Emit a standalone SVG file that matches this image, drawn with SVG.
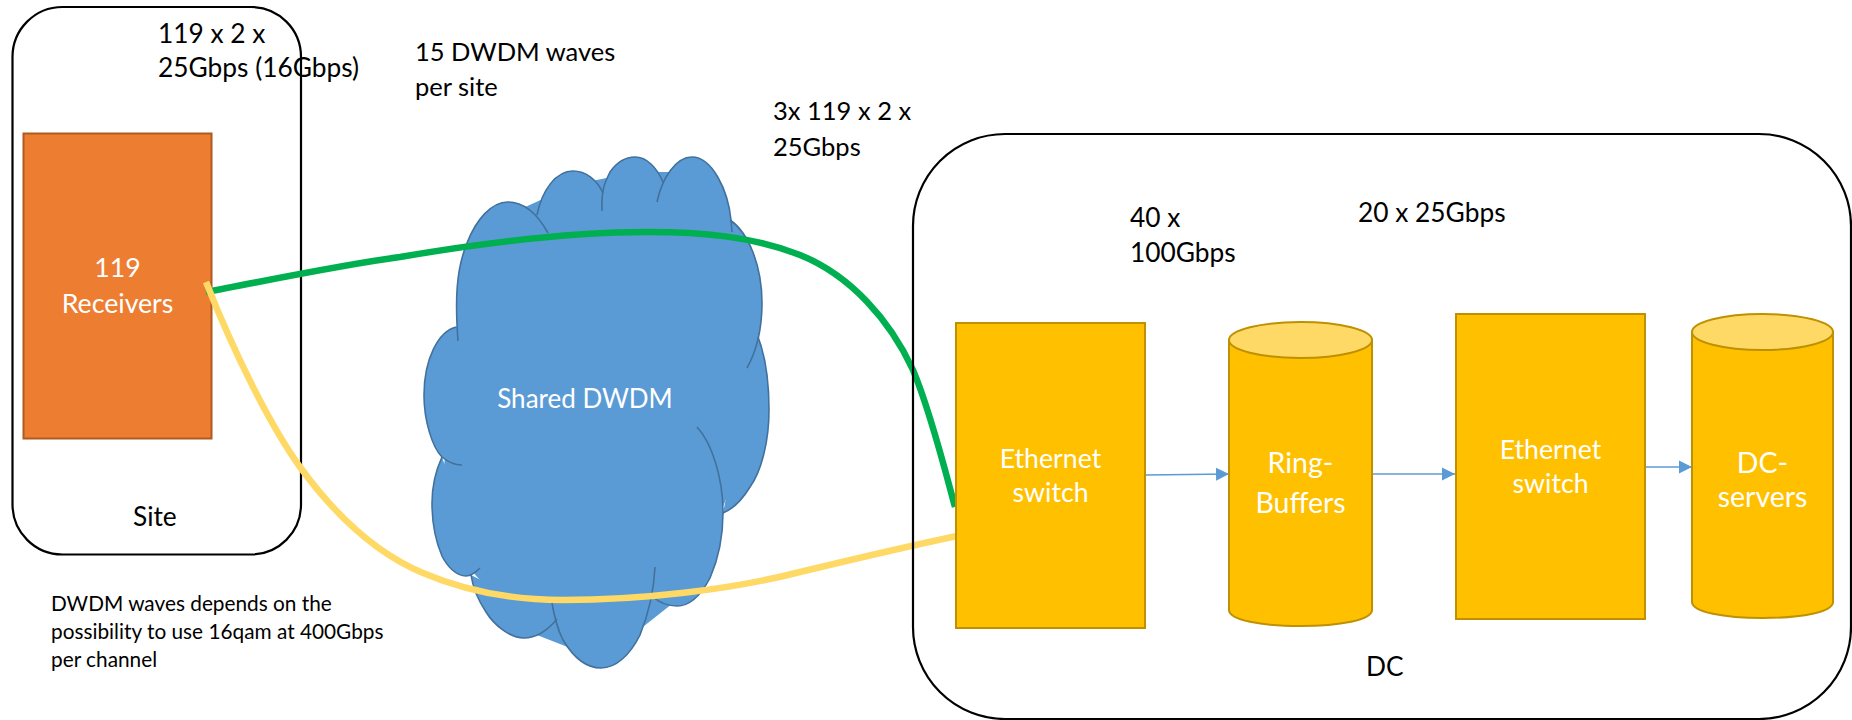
<svg xmlns="http://www.w3.org/2000/svg" width="1852" height="720" viewBox="0 0 1852 720">
<style>
text{font-family:"Lato","Liberation Sans",sans-serif;font-size:26.300px;fill:#000}
.n{font-size:25.500px}
.w{fill:#fff;text-anchor:middle;font-size:26.700px}
.d{font-size:26px}
.b{font-size:28.500px}
.s{font-size:20.800px}
.c{fill:none;stroke:#000;stroke-width:2.2}
.y{fill:#FFC000;stroke:#BF9000;stroke-width:2}
.t{fill:#FFD966;stroke:#BF9000;stroke-width:2}
.a{fill:none;stroke:#5B9BD5;stroke-width:1.3;marker-end:url(#ah)}
.cl{fill:none;stroke:#41719C;stroke-width:1.6}
.cf{fill:#5B9BD5;stroke:none}
</style>
<defs>
<marker id="ah" markerUnits="userSpaceOnUse" markerWidth="14" markerHeight="14" refX="13" refY="7" orient="auto"><path d="M0,0.5L13,7L0,13.5z" fill="#5B9BD5"/></marker>
<g id="lobes">
<path d="M458,341C455,300 456,270 467,243C476,220 491,202 508,202C525,202 538,215 548,233"/>
<path d="M537,215C542,190 556,171 573,171C586,171 597,180 603,193"/>
<path d="M602,211C601,190 605,182 610,172C617,162 625,157 635,157C647,157 657,168 663,182"/>
<path d="M657,202C662,178 676,157 692,157C712,157 728,190 731,220L732,232"/>
<path d="M730,220C748,232 762,265 762,303C762,330 757,350 747,368"/>
<path d="M758,337C765,355 769,380 769,410C769,440 762,470 750,487C742,500 733,509 723,513"/>
<path d="M697,427C712,443 723,478 723,513C723,530 720,555 710,578C700,597 688,606 677,606C668,606 660,603 653,597"/>
<path d="M655,567C654,590 648,615 640,635C630,655 616,668 601,668C585,668 572,655 563,640C557,628 554,615 552,603"/>
<path d="M557,619C547,631 536,638 524,638C510,638 494,625 486,612C478,600 473,588 471,575"/>
<path d="M480,568C476,572 471,576 466,576C456,576 447,566 442,556C436,542 432,522 432,503C432,485 436,470 442,457"/>
<path d="M462,465C455,465 448,462 442,457C432,447 424,420 424,395C424,360 438,331 456.500,327"/>
</g>
</defs>
<g id="site"><rect class="c" x="12.500" y="7" width="288.500" height="547.500" rx="50"/><text x="133" y="526">Site</text></g>
<g id="receivers"><rect x="23.500" y="133.500" width="188" height="305" fill="#ED7D31" stroke="#AE5A21" stroke-width="2"/><text class="w" x="117.500" y="277">119</text><text class="w" x="117.500" y="313">Receivers</text></g>
<g id="cloud">
<path class="cf" d="M456.500,327L470,300L508,215L573,185L635,172L692,172L745,250L755,330L762,420L720,513L677,600L601,660L524,630L471,570L440,503L445,457L430,395Z"/>
<use href="#lobes" class="cf"/>
<use href="#lobes" class="cl"/>
<text class="w d" x="585" y="408">Shared DWDM</text>
</g>
<g id="connectors">
<path fill="none" stroke="#00B050" stroke-width="6.500" d="M206,292C270,280 340,265 400,257C470,245 560,232 648,232C700,232 752,236 800,255C850,275 890,320 913,370C930,410 945,470 955,507"/>
<path fill="none" stroke="#FFD966" stroke-width="6.500" d="M206,282C235,355 270,425 300,467C335,515 375,553 423,573C470,593 520,600 563,600C640,600 730,590 800,572C850,560 900,548 957,536"/>
<path class="a" d="M1146,475L1229,474"/>
<path class="a" d="M1372,474L1455,474"/>
<path class="a" d="M1645,467L1692,467"/>
</g>
<g id="dc"><rect class="c" x="913" y="134" width="938" height="585" rx="92"/><text x="1366" y="676">DC</text></g>
<g id="switch1"><rect class="y" x="956" y="323" width="189" height="305"/><text class="w" x="1050.500" y="468">Ethernet</text><text class="w" x="1050.500" y="502">switch</text></g>
<g id="ringbuffers"><path class="y" d="M1229,340V610C1229,620 1261,626 1300.500,626C1340,626 1372,620 1372,610V340Z"/><ellipse class="t" cx="1300.500" cy="340" rx="71.500" ry="18"/><text class="w b" x="1300.500" y="473">Ring-</text><text class="w b" x="1300.500" y="513">Buffers</text></g>
<g id="switch2"><rect class="y" x="1456" y="314" width="189" height="305"/><text class="w" x="1550.500" y="459">Ethernet</text><text class="w" x="1550.500" y="493">switch</text></g>
<g id="dcservers"><path class="y" d="M1692,332V602C1692,612 1724,618 1762.500,618C1802,618 1833,612 1833,602V332Z"/><ellipse class="t" cx="1762.500" cy="332" rx="70.500" ry="18"/><text class="w b" x="1762.500" y="473">DC-</text><text class="w b" x="1762.500" y="507">servers</text></g>
<g id="labels">
<text x="158" y="43">119 x 2 x</text><text x="158" y="77">25Gbps (16Gbps)</text>
<text class="n" x="415" y="61">15 DWDM waves</text><text class="n" x="415" y="96">per site</text>
<text class="n" x="773" y="120">3x 119 x 2 x</text><text class="n" x="773" y="156">25Gbps</text>
<text x="1130" y="227">40 x</text><text x="1130" y="262">100Gbps</text>
<text x="1358" y="222">20 x 25Gbps</text>
<text class="s" x="51" y="611">DWDM waves depends on the</text><text class="s" x="51" y="639">possibility to use 16qam at 400Gbps</text><text class="s" x="51" y="667">per channel</text>
</g>
</svg>
